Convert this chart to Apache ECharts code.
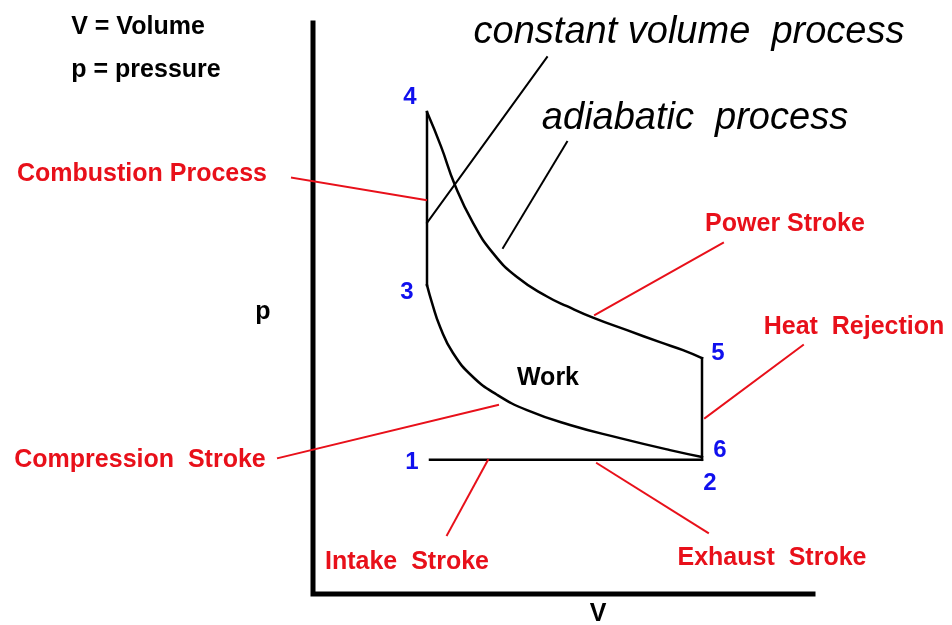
<!DOCTYPE html>
<html>
<head>
<meta charset="utf-8">
<script src="https://cdn.jsdelivr.net/npm/echarts@6/dist/echarts.min.js"></script>
<style>
    html, body {margin: 0; padding: 0; background: #ffffff;}
    #main {width: 952px; height: 625px;}
</style>
</head>
<body>
<div id="main"></div>
<script>
// p-V diagram, V and p both on a 0..100 scale inside the axes

// the two axes (drawn as an L)
const axisV = [0, 0, 100];
const axisP = [100, 0, 0];
const axisNames = ['p', 'V'];
const axisNameV = [-10.0, 57.0];
const axisNameP = [49.4, -3.5];

// state points 1..6
const stateNames = ['1', '2', '3', '4', '5', '6'];
const stateV = [23.4, 77.8, 22.8, 22.8, 77.8, 77.8];
const stateP = [23.5, 23.5, 54.1, 84.4, 41.3, 24.0];
// where the blue numbers sit
const stateLabelV = [19.8, 79.4, 18.8, 19.4, 81.0, 81.4];
const stateLabelP = [23.1, 19.4, 52.9, 86.9, 42.2, 25.2];

// 4 -> 5 adiabatic expansion (power stroke)
const expansionV = [22.8, 25.6, 28.4, 32.0, 36.0, 40.8, 46.8, 50.8, 56.0, 62.8, 69.4, 74.0, 77.8];
const expansionP = [84.4, 78.4, 71.6, 65.0, 59.7, 55.5, 52.1, 50.4, 48.4, 46.2, 44.1, 42.7, 41.3];

// 3 -> 6 compression stroke
const compressionV = [22.8, 23.8, 25.4, 28.0, 32.0, 36.8, 42.8, 51.4, 61.4, 71.4, 77.8];
const compressionP = [54.1, 51.0, 46.8, 42.2, 38.0, 34.9, 32.2, 29.6, 27.3, 25.2, 24.0];

// red labels and their pointer lines [V0, p0, V1, p1]
const redNotes = ['Combustion Process', 'Power Stroke', 'Heat  Rejection', 'Compression  Stroke', 'Intake  Stroke', 'Exhaust  Stroke'];
const redNoteV = [-34.2, 94.4, 108.2, -34.6, 18.8, 91.8];
const redNoteP = [73.6, 64.8, 46.8, 23.5, 5.6, 6.3];
const redPointers = [
    [-4.2, 72.9, 22.6, 69.0],
    [56.4, 48.9, 82.0, 61.5],
    [78.4, 30.8, 98.0, 43.6],
    [-7.0, 23.8, 37.0, 33.1],
    [26.8, 10.3, 35.0, 23.5],
    [56.8, 22.9, 79.0, 10.7]
];

// black italic labels and pointers
const processNotes = ['constant volume  process', 'adiabatic  process'];
const processNoteV = [75.2, 76.4];
const processNoteP = [98.4, 83.3];
const processPointers = [
    [22.8, 65.0, 46.8, 94.0],
    [38.0, 60.6, 50.8, 79.2]
];

// plain black text
const plainNotes = ['V = Volume', 'p = pressure', 'Work'];
const plainNoteV = [-35.0, -33.4, 47.0];
const plainNoteP = [99.3, 91.8, 37.8];

const RED = '#e8101a';
const BLUE = '#1010ee';
const FONT = '"Liberation Sans", Arial, sans-serif';

function pairs(vs, ps) {
    return vs.map((v, i) => [v, ps[i]]);
}

function seg(a, b) {
    return [[stateV[a], stateP[a]], [stateV[b], stateP[b]]];
}

function lineSeries(data, color, width, smooth) {
    return {
        type: 'line',
        data: data,
        smooth: smooth || false,
        showSymbol: false,
        clip: false,
        silent: true,
        lineStyle: {color: color, width: width, cap: 'square', join: 'miter'}
    };
}

function textSeries(names, vs, ps, labelStyle) {
    return {
        type: 'scatter',
        symbolSize: 0,
        clip: false,
        silent: true,
        itemStyle: {opacity: 1},
        data: names.map((n, i) => ({name: n, value: [vs[i], ps[i]]})),
        label: Object.assign({
            show: true,
            position: 'inside',
            formatter: (p) => p.name,
            fontFamily: FONT
        }, labelStyle)
    };
}

var chart = echarts.init(document.getElementById('main'));
var option;

let series = [];
// axes
series.push(lineSeries(pairs(axisV, axisP), '#000', 5));
// cycle
series.push(lineSeries(seg(0, 1), '#000', 2.5));                     // 1 -> 2
series.push(lineSeries(pairs(compressionV, compressionP), '#000', 2.5, 0.5));
series.push(lineSeries(seg(2, 3), '#000', 2.5));                     // 3 -> 4
series.push(lineSeries(pairs(expansionV, expansionP), '#000', 2.5, 0.5));
series.push(lineSeries(seg(4, 1), '#000', 2.5));                     // 5 -> 2

// pointers
redPointers.forEach(d => series.push(lineSeries([[d[0], d[1]], [d[2], d[3]]], RED, 2)));
processPointers.forEach(d => series.push(lineSeries([[d[0], d[1]], [d[2], d[3]]], '#000', 2)));

// texts
series.push(textSeries(redNotes, redNoteV, redNoteP, {color: RED, fontSize: 25, fontWeight: 'bold'}));
series.push(textSeries(processNotes, processNoteV, processNoteP, {color: '#000', fontSize: 38, fontStyle: 'italic'}));
series.push(textSeries(plainNotes, plainNoteV, plainNoteP, {color: '#000', fontSize: 25, fontWeight: 'bold'}));
series.push(textSeries(axisNames, axisNameV, axisNameP, {color: '#000', fontSize: 25, fontWeight: 'bold'}));
series.push(textSeries(stateNames, stateLabelV, stateLabelP, {color: BLUE, fontSize: 24, fontWeight: 'bold'}));

option = {
    animation: false,
    backgroundColor: '#ffffff',
    // grid covers the whole picture, the L axes are drawn as a series
    grid: {
        left: 0,
        right: 0,
        top: 0,
        bottom: 0,
        outerBoundsMode: 'none'
    },
    xAxis: {
        type: 'value',
        min: -62.6,
        max: 127.8,
        show: false
    },
    yAxis: {
        type: 'value',
        min: -5.43,
        max: 104.03,
        show: false
    },
    series: series
};

option && chart.setOption(option);
</script>
</body>
</html>
